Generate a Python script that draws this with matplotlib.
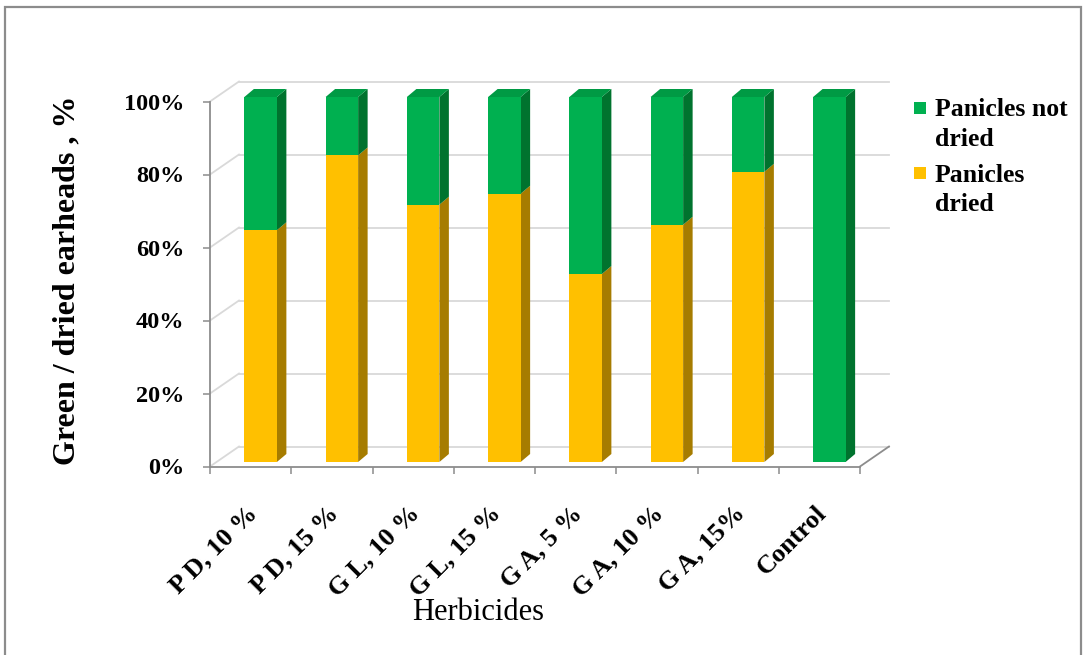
import matplotlib
matplotlib.use("Agg")
import matplotlib.pyplot as plt
import matplotlib.transforms as mtransforms
import numpy as np
from matplotlib.patches import Polygon, Rectangle
from matplotlib.ticker import FixedLocator, NullFormatter, PercentFormatter

# ---- data -------------------------------------------------------------
categories = ["P D, 10 %", "P D, 15 %", "G L, 10 %", "G L, 15 %",
              "G A, 5 %", "G A, 10 %", "G A, 15%", "Control"]
panicles_dried = [63.5, 84.0, 70.5, 73.5, 51.5, 65.0, 79.5, 0.0]
panicles_not_dried = [36.5, 16.0, 29.5, 26.5, 48.5, 35.0, 20.5, 100.0]
series_names = ["Panicles not dried", "Panicles dried"]
legend_lines = [["Panicles not", "dried"], ["Panicles", "dried"]]
y_ticks = [0, 20, 40, 60, 80, 100]

# ---- style ------------------------------------------------------------
plt.rcParams["font.family"] = ["Liberation Serif", "DejaVu Serif"]

GREEN, GREEN_SIDE, GREEN_TOP = "#00B050", "#00732E", "#009A44"
YELLOW, YELLOW_SIDE = "#FFC000", "#A67C00"
GRID = "#D9D9D9"
AXIS = "#8C8C8C"

W, H = 1085, 655
fig = plt.figure(figsize=(W / 100, H / 100), dpi=100)
fig.patch.set_facecolor("white")

# plot area: front plane of the 3-D box
ax_left, ax_right, ax_top, ax_bottom = 210, 860, 101.5, 466.5
ax = fig.add_axes([ax_left / W, (H - ax_bottom) / H,
                   (ax_right - ax_left) / W, (ax_bottom - ax_top) / H])
ax.set_xlim(-0.5, len(categories) - 0.5)
ax.set_ylim(0, 100)
ax.set_facecolor("none")

px_per_cat = (ax_right - ax_left) / len(categories)
px_per_pct = (ax_bottom - ax_top) / 100.0

# depth of the box (back wall offset) and of the bars
wall_dx, wall_dy = 29 / px_per_cat, 20 / px_per_pct
bar_dx, bar_dy = 10 / px_per_cat, 4.5 / px_per_pct
depth_dx, depth_dy = 9.5 / px_per_cat, 8 / px_per_pct
bar_w = 32.5 / px_per_cat

x0, x1 = -0.5, len(categories) - 0.5

# back wall gridlines and side-wall diagonals
for v in y_ticks:
    ax.plot([x0 + wall_dx, x1 + wall_dx], [v + wall_dy, v + wall_dy],
            color=GRID, lw=1.3, clip_on=False, zorder=1)
    ax.plot([x0, x0 + wall_dx], [v, v + wall_dy],
            color=GRID, lw=1.3, clip_on=False, zorder=1)
# floor edge on the right
ax.plot([x1, x1 + wall_dx], [0, wall_dy], color=AXIS, lw=1.3,
        clip_on=False, zorder=1)

# ---- bars -------------------------------------------------------------
xs = np.arange(len(categories)) + bar_dx


def side_face(xc, y_lo, y_hi, color):
    xr = xc + bar_w / 2
    pts = [(xr, y_lo), (xr + depth_dx, y_lo + depth_dy),
           (xr + depth_dx, y_hi + depth_dy), (xr, y_hi)]
    ax.add_patch(Polygon(pts, closed=True, fc=color, ec="none",
                         clip_on=False, zorder=3))


def top_face(xc, y, color):
    xl, xr = xc - bar_w / 2, xc + bar_w / 2
    pts = [(xl, y), (xl + depth_dx, y + depth_dy),
           (xr + depth_dx, y + depth_dy), (xr, y)]
    ax.add_patch(Polygon(pts, closed=True, fc=color, ec="none",
                         clip_on=False, zorder=3))


bottoms = [bar_dy] * len(categories)
ax.bar(xs, panicles_dried, width=bar_w, bottom=bottoms, color=YELLOW,
       zorder=4, clip_on=False, label=series_names[1])
tops_dried = [bar_dy + d for d in panicles_dried]
ax.bar(xs, panicles_not_dried, width=bar_w, bottom=tops_dried, color=GREEN,
       zorder=4, clip_on=False, label=series_names[0])

for xc, d, nd in zip(xs, panicles_dried, panicles_not_dried):
    if d > 0:
        side_face(xc, bar_dy, bar_dy + d, YELLOW_SIDE)
    side_face(xc, bar_dy + d, bar_dy + d + nd, GREEN_SIDE)
    top_face(xc, bar_dy + d + nd, GREEN_TOP)

# ---- axes -------------------------------------------------------------
for s in ("top", "right"):
    ax.spines[s].set_visible(False)
for s in ("left", "bottom"):
    ax.spines[s].set_color(AXIS)
    ax.spines[s].set_linewidth(1.3)

ax.yaxis.set_major_locator(FixedLocator(y_ticks))
ax.yaxis.set_major_formatter(PercentFormatter(xmax=100, decimals=0))
ax.tick_params(axis="y", length=5, width=1.1, color=AXIS, pad=13.5,
               labelsize=17.5)
for lab in ax.get_yticklabels():
    lab.set_fontweight("bold")

ax.set_xticks(np.arange(x0, x1 + 0.01, 1.0))
ax.xaxis.set_major_formatter(NullFormatter())
ax.tick_params(axis="x", which="major", length=5, width=1.1, color=AXIS)
ax.set_xticks(np.arange(len(categories)), labels=categories, minor=True)
ax.tick_params(axis="x", which="minor", length=0, pad=31, labelsize=19)
shift = mtransforms.ScaledTranslation(3 / 100, 0, fig.dpi_scale_trans)
for lab in ax.get_xticklabels(minor=True):
    lab.set_rotation(45)
    lab.set_ha("right")
    lab.set_va("center")
    lab.set_rotation_mode("anchor")
    lab.set_fontweight("bold")
    lab.set_transform(lab.get_transform() + shift)

# ---- titles -----------------------------------------------------------
fig.text(67 / W, 1 - 280 / H, "Green / dried earheads , %", rotation=90,
         ha="center", va="center", fontsize=23, fontweight="bold")
fig.text(478 / W, 1 - 612 / H, "Herbicides", ha="center", va="center",
         fontsize=22)

# ---- legend -----------------------------------------------------------
legend_colors = [GREEN, YELLOW]
square_tops = [101.7, 167.0]
first_baselines = [116.0, 181.7]
line_gap = 29.5
for col, sq_top, base, lines in zip(legend_colors, square_tops,
                                    first_baselines, legend_lines):
    fig.patches.append(Rectangle((914 / W, 1 - (sq_top + 12) / H), 12 / W,
                                 12 / H, transform=fig.transFigure,
                                 fc=col, ec="none"))
    for k, line in enumerate(lines):
        fig.text(935 / W, 1 - (base + k * line_gap) / H, line, ha="left",
                 va="baseline", fontsize=18.5, fontweight="bold")

# outer chart frame
fig.patches.append(Rectangle((5 / W, -0.02), (1081 - 5) / W,
                             (H - 7) / H + 0.02, transform=fig.transFigure,
                             fill=False, ec="#8C8C8C", lw=1.6))

fig.savefig("out.png", dpi=100)
